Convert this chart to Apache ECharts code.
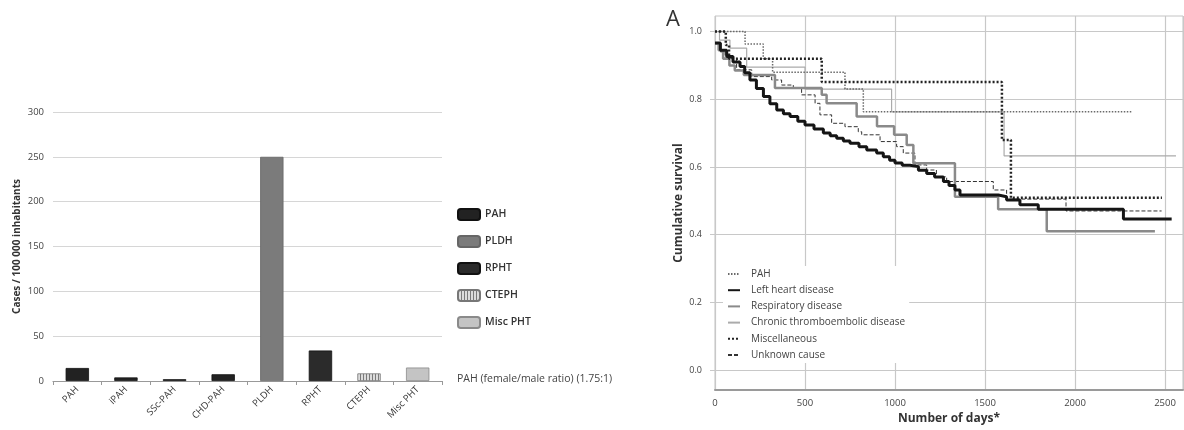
<!DOCTYPE html>
<html>
<head>
<meta charset="utf-8">
<script src="https://cdn.jsdelivr.net/npm/echarts@6/dist/echarts.min.js"></script>
<style>
  html, body { margin: 0; padding: 0; background: #fff; }
  #main { width: 1184px; height: 430px; }
</style>
</head>
<body>
<div id="main"></div>
<script>
// left panel: prevalence bars
var barCategories = ['PAH', 'iPAH', 'SSc-PAH', 'CHD-PAH', 'PLDH', 'RPHT', 'CTEPH', 'Misc PHT'];
var barValues = [14.5, 4, 2, 7.5, 250, 34, 8.5, 15];
var barGroups = ['PAH', 'PAH', 'PAH', 'PAH', 'PLDH', 'RPHT', 'CTEPH', 'Misc PHT'];
var barLegend = ['PAH', 'PLDH', 'RPHT', 'CTEPH', 'Misc PHT'];

// right panel: Kaplan-Meier curves, [days, survival]
var pahSurv = [[0, 1.0], [167, 0.963], [268, 0.92], [320, 0.88], [722, 0.83], [824, 0.763], [2317, 0.763]];
var leftHeartSurv = [[0, 0.966], [30, 0.945], [65, 0.926], [100, 0.91], [139, 0.897], [165, 0.878], [194, 0.857],
    [230, 0.832], [269, 0.808], [305, 0.787], [343, 0.768], [380, 0.757], [417, 0.749], [460, 0.735], [500, 0.724],
    [550, 0.712], [602, 0.70], [640, 0.692], [676, 0.685], [713, 0.677], [750, 0.67], [800, 0.66], [843, 0.65],
    [898, 0.641], [935, 0.63], [970, 0.62], [1000, 0.612], [1040, 0.605], [1083, 0.601], [1130, 0.59], [1176, 0.581],
    [1220, 0.57], [1269, 0.557], [1300, 0.545], [1333, 0.532], [1361, 0.517], [1574, 0.512], [1620, 0.502],
    [1694, 0.488], [1796, 0.475], [2269, 0.446], [2537, 0.446]];
var respiratorySurv = [[0, 0.965], [20, 0.945], [45, 0.92], [80, 0.9], [110, 0.885], [160, 0.872], [333, 0.833],
    [593, 0.813], [620, 0.788], [787, 0.749], [900, 0.72], [995, 0.695], [1065, 0.665], [1102, 0.611], [1333, 0.512],
    [1573, 0.475], [1843, 0.41], [2444, 0.41]];
var chronicSurv = [[0, 1.0], [25, 0.975], [83, 0.951], [176, 0.895], [500, 0.83], [981, 0.763], [1606, 0.633], [2561, 0.633]];
var miscSurv = [[0, 1.0], [60, 0.96], [78, 0.92], [593, 0.851], [1594, 0.68], [1644, 0.509], [2483, 0.509]];
var unknownSurv = [[0, 0.965], [30, 0.94], [56, 0.921], [120, 0.887], [204, 0.867], [315, 0.857], [370, 0.842],
    [435, 0.832], [481, 0.813], [556, 0.788], [583, 0.754], [648, 0.729], [722, 0.719], [796, 0.704], [815, 0.695],
    [917, 0.675], [1009, 0.66], [1046, 0.641], [1111, 0.606], [1176, 0.591], [1230, 0.571], [1287, 0.557],
    [1546, 0.532], [1620, 0.505], [1950, 0.47], [2481, 0.47]];
var survivalTicks = [0, 0.2, 0.4, 0.6, 0.8, 1.0];
var survLegend = ['PAH ', 'Left heart disease', 'Respiratory disease', 'Chronic thromboembolic disease', 'Miscellaneous', 'Unknown cause'];

var font = 'Open Sans';

// vertical hatch for CTEPH
var hatch = document.createElement('canvas');
hatch.width = 3; hatch.height = 3;
var hctx = hatch.getContext('2d');
hctx.fillStyle = '#dcdcdc'; hctx.fillRect(0, 0, 3, 3);
hctx.fillStyle = '#7a7a7a'; hctx.fillRect(0, 0, 1, 3);

var barStyles = {
    'PAH': { color: '#222222', borderColor: '#111', borderWidth: 0.8 },
    'PLDH': { color: '#7b7b7b', borderColor: '#666', borderWidth: 0.8 },
    'RPHT': { color: '#2b2b2b', borderColor: '#111', borderWidth: 0.8 },
    'CTEPH': { color: { image: hatch, repeat: 'repeat' }, borderColor: '#777', borderWidth: 0.8 },
    'Misc PHT': { color: '#c4c4c4', borderColor: '#8a8a8a', borderWidth: 0.8 }
};

var barSeries = barLegend.map(function (name) {
    return {
        name: name,
        type: 'bar',
        stack: 'cases',
        barWidth: '48%',
        xAxisIndex: 0,
        yAxisIndex: 0,
        data: barValues.map(function (v, i) { return barGroups[i] === name ? v : '-'; }),
        itemStyle: barStyles[name]
    };
});

var lineStyles = [
    { color: '#6a6a6a', width: 1.5, type: [1.5, 1.5] },
    { color: '#151515', width: 3, type: 'solid' },
    { color: '#8a8a8a', width: 2.5, type: 'solid' },
    { color: '#ababab', width: 1.2, type: 'solid' },
    { color: '#222222', width: 2.5, type: [2, 2] },
    { color: '#333333', width: 1, type: [4, 2] }
];
var survData = [pahSurv, leftHeartSurv, respiratorySurv, chronicSurv, miscSurv, unknownSurv];
var survZ = [3, 6, 4, 2, 5, 3];

var lineSeries = survLegend.map(function (name, i) {
    return {
        name: name,
        type: 'line',
        step: 'end',
        symbol: 'none',
        xAxisIndex: 1,
        yAxisIndex: 1,
        z: survZ[i],
        data: survData[i],
        lineStyle: lineStyles[i],
        itemStyle: { color: lineStyles[i].color }
    };
});

var option = {
    animation: false,
    textStyle: { fontFamily: font },
    title: [
        { text: 'A', left: 661, top: 4, textStyle: { fontFamily: font, fontSize: 22, fontWeight: 'normal', color: '#333' } },
        { text: 'PAH (female/male ratio) (1.75:1)', left: 452, top: 369,
          textStyle: { fontFamily: font, fontSize: 10.5, fontWeight: 'normal', color: '#444' } }
    ],
    legend: [
        {
            data: barLegend,
            orient: 'vertical',
            left: 452, top: 203,
            itemWidth: 22, itemHeight: 11, itemGap: 14,
            textStyle: { fontFamily: font, fontSize: 10.5, color: '#333', fontWeight: 600 }
        },
        {
            data: survLegend,
            orient: 'vertical',
            left: 723, top: 266,
            padding: [2, 4, 2, 4],
            backgroundColor: '#fff',
            itemWidth: 12, itemHeight: 10, itemGap: 4.2,
            itemStyle: { opacity: 0 },
            textStyle: { fontFamily: font, fontSize: 10, color: '#444', lineHeight: 12, padding: [0, 0, 0, 6] }
        }
    ],
    grid: [
        { left: 53, right: 742, top: 112, bottom: 49 },
        { left: 715, right: 1, top: 16, bottom: 40, show: true, borderColor: '#c4c4c4', borderWidth: 1 }
    ],
    xAxis: [
        {
            type: 'category',
            gridIndex: 0,
            data: barCategories,
            axisLine: { lineStyle: { color: '#999', width: 1.2 } },
            axisTick: { show: true, length: 4, lineStyle: { color: '#999' } },
            axisLabel: { interval: 0, rotate: 45, fontSize: 9.5, color: '#333', margin: 7 }
        },
        {
            type: 'value',
            gridIndex: 1,
            min: 0, max: 2600, interval: 500,
            name: 'Number of days*',
            nameLocation: 'middle',
            nameGap: 22,
            nameTextStyle: { fontFamily: font, fontSize: 12, fontWeight: 'bold', color: '#333' },
            axisLine: { onZero: false, lineStyle: { color: '#9a9a9a', width: 2 } },
            axisTick: { show: false },
            axisLabel: { fontSize: 9.5, color: '#444', margin: 8, showMaxLabel: false,
                formatter: function (v) { return String(v); } },
            splitLine: { show: true, lineStyle: { color: '#c8c8c8', width: 1.2 } }
        }
    ],
    yAxis: [
        {
            type: 'value',
            gridIndex: 0,
            min: 0, max: 300, interval: 50,
            name: 'Cases / 100 000 inhabitants',
            nameLocation: 'middle',
            nameGap: 31,
            nameTextStyle: { fontFamily: font, fontSize: 10, fontWeight: 'bold', color: '#333' },
            axisLine: { show: false },
            axisTick: { show: false },
            axisLabel: { fontSize: 9.5, color: '#444', margin: 9 },
            splitLine: { lineStyle: { color: '#d6d6d6', width: 1.2 } }
        },
        {
            type: 'value',
            gridIndex: 1,
            min: -0.059, max: 1.046,
            name: 'Cumulative survival',
            nameLocation: 'middle',
            nameGap: 30,
            nameTextStyle: { fontFamily: font, fontSize: 12, fontWeight: 'bold', color: '#333' },
            axisLine: { show: false },
            axisTick: { show: true, length: 5, customValues: survivalTicks, lineStyle: { color: '#c8c8c8' } },
            axisLabel: { fontSize: 9, color: '#444', margin: 13, customValues: survivalTicks,
                formatter: function (v) { return v.toFixed(1); } },
            splitLine: { show: true, lineStyle: { color: '#c8c8c8', width: 1.2 } }
        }
    ],
    series: barSeries.concat(lineSeries)
};

var myChart = echarts.init(document.getElementById('main'));
myChart.setOption(option);
</script>
</body>
</html>
